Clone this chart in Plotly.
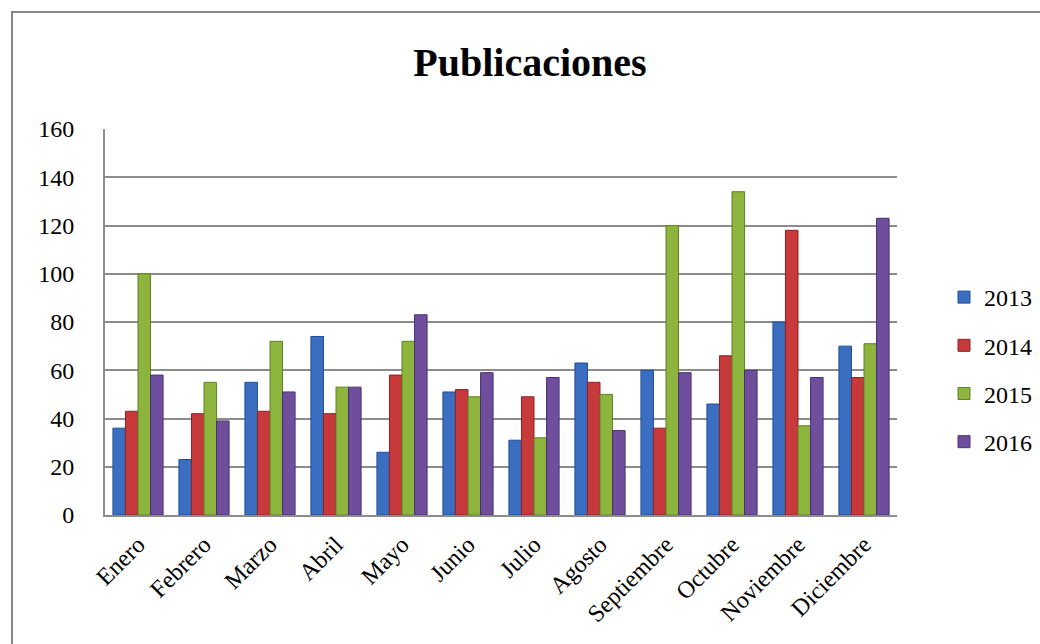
import plotly.graph_objects as go

months = ["Enero", "Febrero", "Marzo", "Abril", "Mayo", "Junio", "Julio",
          "Agosto", "Septiembre", "Octubre", "Noviembre", "Diciembre"]
v2013 = [36, 23, 55, 74, 26, 51, 31, 63, 60, 46, 80, 70]
v2014 = [43, 42, 43, 42, 58, 52, 49, 55, 36, 66, 118, 57]
v2015 = [100, 55, 72, 53, 72, 49, 32, 50, 120, 134, 37, 71]
v2016 = [58, 39, 51, 53, 83, 59, 57, 35, 59, 60, 57, 123]
series = [("2013", v2013, "#3B6EC0", "#1F4F99"),
          ("2014", v2014, "#C8393C", "#8E2226"),
          ("2015", v2015, "#8DB43C", "#5F8224"),
          ("2016", v2016, "#6F4F9C", "#4A3175")]
yticks = [0, 20, 40, 60, 80, 100, 120, 140, 160]

fig = go.Figure()
for name, vals, col, edge in series:
    fig.add_trace(go.Bar(x=months, y=vals, name=name, legendgroup=name,
                         marker=dict(color=col, line=dict(color=edge, width=1))))

W, H = 1040, 644
L, R, T, B = 105, 143, 129, 129
pw, ph = W - L - R, H - T - B

def px(x):
    return (x - L) / pw

def py(y):
    return (H - B - y) / ph

SERIF = "Liberation Serif, serif"
fig.update_layout(
    width=W, height=H,
    margin=dict(l=L, r=R, t=T, b=B, autoexpand=False),
    paper_bgcolor="white", plot_bgcolor="white",
    barmode="group", bargap=0.24, bargroupgap=0,
    title=dict(text="<b>Publicaciones</b>", x=530 / W, xref="container", xanchor="center",
               y=1 - 62 / H, yanchor="middle",
               font=dict(family=SERIF, size=40, color="black")),
    font=dict(family=SERIF, color="black"),
    legend=dict(x=px(944), y=py(275), xanchor="left", yanchor="top",
                font=dict(family=SERIF, size=24, color="black"),
                itemwidth=30, tracegroupgap=14, bgcolor="rgba(0,0,0,0)"),
    showlegend=True,
    shapes=[dict(type="rect", xref="paper", yref="paper",
                 x0=px(12), x1=px(1060), y0=py(670), y1=py(12),
                 line=dict(color="#888888", width=2), fillcolor="rgba(0,0,0,0)", layer="below")],
)
fig.update_yaxes(range=[0, 160], tickvals=yticks, showgrid=True, gridcolor="#8c8c8c", gridwidth=2,
                 showline=True, linecolor="#8c8c8c", linewidth=2, zeroline=False,
                 tickfont=dict(family=SERIF, size=24, color="black"),
                 ticks="", ticklabelstandoff=24)
fig.update_xaxes(showline=True, linecolor="#8c8c8c", linewidth=2, tickangle=-45,
                 tickfont=dict(family=SERIF, size=24, color="black"),
                 ticks="", ticklabelstandoff=4)

fig.write_html("out.html", config={"displayModeBar": False},
               post_script="document.body.style.margin='0';")
